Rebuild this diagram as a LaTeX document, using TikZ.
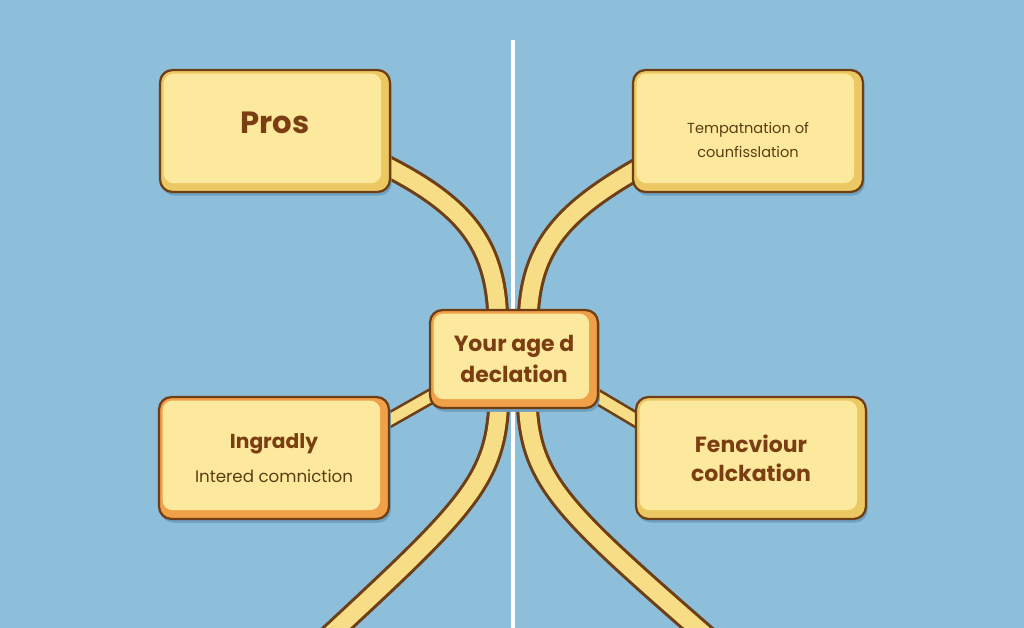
\documentclass[tikz,border=0pt]{standalone}
\usepackage{fontspec}
\setmainfont{Poppins}
\usetikzlibrary{shadows}

\definecolor{sky}{RGB}{141,190,218}
\definecolor{skyshade}{RGB}{112,160,192}
\definecolor{rim}{RGB}{110,62,22}
\definecolor{cardface}{RGB}{253,233,158}
\definecolor{cardshade}{RGB}{236,200,98}
\definecolor{cardorange}{RGB}{240,160,72}
\definecolor{tubefill}{RGB}{247,222,134}
\definecolor{ink}{RGB}{123,62,18}
\definecolor{softink}{RGB}{92,61,18}

\pgfdeclarelayer{back}
\pgfdeclarelayer{backdrop}
\pgfsetlayers{backdrop,back,main}

\tikzset{
  card/.style={rounded corners=0.25cm, draw=rim, line width=1.3pt, fill=cardshade,
    align=center, text=ink, inner sep=0pt,
    drop shadow={shadow xshift=1pt, shadow yshift=-2pt, fill=skyshade, opacity=1},
    path picture={\fill[cardface, rounded corners=0.2cm]
      ([xshift=2pt,yshift=5pt]path picture bounding box.south west) rectangle
      ([xshift=-5pt,yshift=-2pt]path picture bounding box.north east);}},
  hotcard/.style={card, fill=cardorange},
  tube/.style={draw=rim, line width=13pt, postaction={draw=tubefill, line width=9.5pt}},
  twig/.style={draw=rim, line width=9pt, postaction={draw=tubefill, line width=6pt}}
}

\begin{document}
\begin{tikzpicture}[x=0.02cm,y=-0.02cm]
 \clip (0,0) rectangle (1024,628);
 \begin{pgfonlayer}{backdrop}
   \fill[sky] (0,0) rectangle (1024,628);
 \end{pgfonlayer}
 \begin{scope}[every node/.style={card, minimum width=4.6cm, minimum height=2.44cm}]
   \node (pros) at (275,131) [font=\bfseries\fontsize{17.5}{21}\selectfont] {\raisebox{-1.5pt}[0pt][0pt]{Pros}};
   \node (tempt) at (748,131) [text=softink, font=\fontsize{8.3}{13.6}\selectfont]
     {\raisebox{-7.5pt}[0pt][0pt]{\begin{tabular}{@{}c@{}}Tempatnation of\\counfisslation\end{tabular}}};
   \node (ingr) at (274,458) [hotcard, font=\fontsize{9.5}{18}\selectfont] {{\bfseries\fontsize{11.5}{18}\selectfont Ingradly}\\[1pt]{\color{softink}Intered comniction}};
   \node (fenc) at (751,458) [font=\bfseries\fontsize{12.5}{16.5}\selectfont] {Fencviour\\colckation};
   \node (centre) at (514,359) [hotcard, minimum width=3.36cm, minimum height=1.96cm,
     font=\bfseries\fontsize{12.5}{18}\selectfont] {Your age d\\declation};
 \end{scope}
 \coordinate (leftend) at (316,648);
 \coordinate (rightend) at (720,648);
 \begin{pgfonlayer}{back}
   \draw[tube] ([xshift=-0.4cm,yshift=-0.55cm]pros.east) .. controls (468,205) and (498,245) .. ([xshift=-0.32cm,yshift=-0.4cm]centre.north);
   \draw[tube] ([xshift=0.4cm,yshift=-0.6cm]tempt.west) .. controls (558,212) and (528,250) .. ([xshift=0.28cm,yshift=-0.4cm]centre.north);
   \draw[tube] ([xshift=-0.3cm,yshift=0.4cm]centre.south) .. controls (499,480) and (470,505) .. (leftend);
   \draw[tube] ([xshift=0.26cm,yshift=0.4cm]centre.south) .. controls (527,480) and (556,505) .. (rightend);
   \draw[twig] ([xshift=0.3cm,yshift=-0.6cm]centre.west) -- ([xshift=-0.3cm,yshift=0.6cm]ingr.east);
   \draw[twig] ([xshift=-0.3cm,yshift=-0.6cm]centre.east) -- ([xshift=0.3cm,yshift=0.6cm]fenc.west);
   \draw[white, line width=1.8pt] (513,40) -- (513,628);
 \end{pgfonlayer}
\end{tikzpicture}
\end{document}
